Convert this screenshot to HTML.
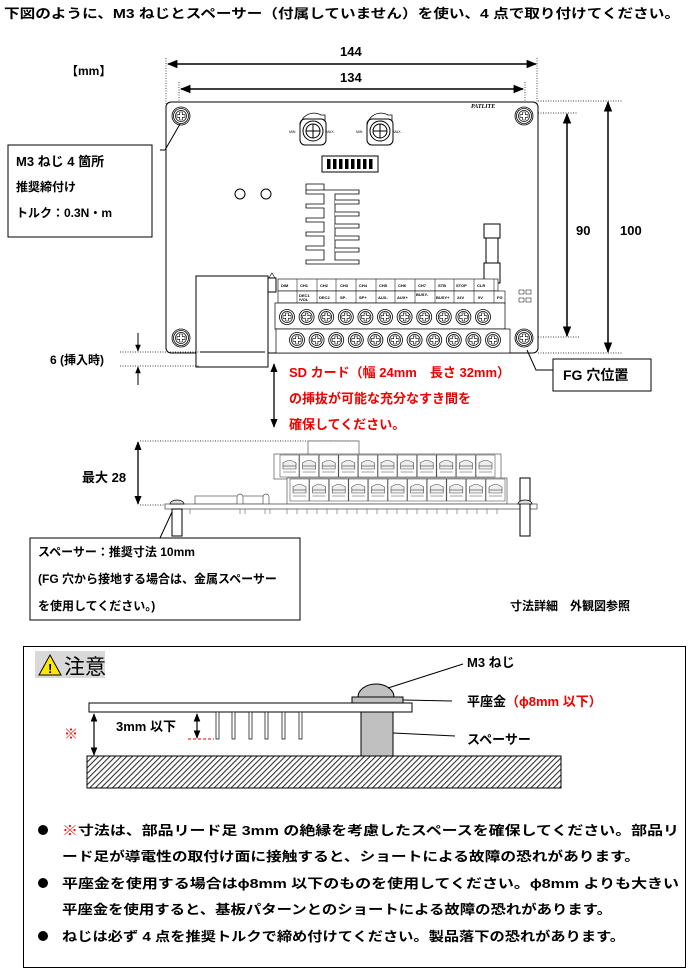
<!DOCTYPE html>
<html><head><meta charset="utf-8"><style>
html,body{margin:0;padding:0;background:#fff;}
svg{display:block;}
text{font-family:"Liberation Sans","Noto Sans CJK JP",sans-serif;font-weight:bold;}
.t{font-size:13px;fill:#000;}
.r{fill:#e00;}
.s{font-size:4px;font-weight:normal;}
</style></head><body>
<svg width="689" height="972" viewBox="0 0 689 972" xmlns="http://www.w3.org/2000/svg">
<defs>
<marker id="ah" viewBox="0 0 10 10" refX="9" refY="5" markerWidth="7" markerHeight="7" orient="auto-start-reverse"><path d="M0,1 L10,5 L0,9 z" fill="#000"/></marker>
<pattern id="hatch" width="4" height="4" patternUnits="userSpaceOnUse" patternTransform="rotate(45)"><rect width="4" height="4" fill="#fff"/><line x1="0" y1="0" x2="0" y2="4" stroke="#333" stroke-width="2.2"/></pattern>
<g id="sc"><circle r="7.5" fill="#fff" stroke="#000" stroke-width="0.8"/><circle r="5.5" fill="none" stroke="#000" stroke-width="0.7"/><path d="M-1.3,-4 h2.6 v2.7 h2.7 v2.6 h-2.7 v2.7 h-2.6 v-2.7 h-2.7 v-2.6 h2.7z" fill="none" stroke="#000" stroke-width="0.6"/></g>
<g id="hole"><circle r="9" fill="#fff" stroke="#000" stroke-width="0.8"/><use href="#sc"/></g>
<g id="tb"><rect x="0" y="0" width="19" height="22" fill="#fff" stroke="#555" stroke-width="0.6"/><path d="M3,8 q6.5,-5 13,0 v6 h-13z" fill="#eee" stroke="#444" stroke-width="0.6"/><line x1="3" y1="11" x2="16" y2="11" stroke="#444" stroke-width="0.6"/><line x1="3" y1="17" x2="16" y2="17" stroke="#444" stroke-width="0.5"/></g>
<g id="knob"><rect x="-13" y="-12" width="26" height="26" rx="5" fill="#fff" stroke="#000"/><path d="M-13,-3 a14,14 0 0 1 21,-13 h4 v6" fill="none" stroke="#000" stroke-width="0.8"/><circle r="10" fill="#fff" stroke="#000"/><circle r="7" fill="none" stroke="#000"/><line x1="-7" y1="0" x2="7" y2="0" stroke="#000"/><line x1="0" y1="-7" x2="0" y2="7" stroke="#000"/><text x="-24" y="2" class="s" style="font-size:3.5px">MIN</text><text x="13" y="2" class="s" style="font-size:3.5px">MAX.</text></g>
</defs>

<text class="t" x="4" y="18" textLength="676" lengthAdjust="spacingAndGlyphs">下図のように、M3 ねじとスペーサー（付属していません）を使い、4 点で取り付けてください。</text>
<text class="t" x="66" y="75" style="font-size:12px">【mm】</text>

<text class="t" x="340" y="56">144</text>
<line x1="168" y1="64" x2="536" y2="64" stroke="#000" stroke-width="1.5" marker-start="url(#ah)" marker-end="url(#ah)"/>
<text class="t" x="340" y="82">134</text>
<line x1="181" y1="89" x2="523" y2="89" stroke="#000" stroke-width="1.5" marker-start="url(#ah)" marker-end="url(#ah)"/>
<g stroke="#000" stroke-width="0.7" stroke-dasharray="1,1.5">
<line x1="166" y1="58" x2="166" y2="104"/><line x1="537" y1="58" x2="537" y2="104"/>
<line x1="179" y1="82" x2="179" y2="108"/><line x1="525" y1="82" x2="525" y2="108"/>
<line x1="538" y1="101" x2="622" y2="101"/><line x1="538" y1="113" x2="578" y2="113"/>
<line x1="538" y1="337" x2="580" y2="337"/><line x1="538" y1="353" x2="622" y2="353"/>
</g>
<line x1="567" y1="114" x2="567" y2="336" stroke="#000" stroke-width="1.5" marker-start="url(#ah)" marker-end="url(#ah)"/>
<line x1="608" y1="102" x2="608" y2="352" stroke="#000" stroke-width="1.5" marker-start="url(#ah)" marker-end="url(#ah)"/>
<text class="t" x="576" y="235">90</text>
<text class="t" x="620" y="235">100</text>

<rect x="166" y="102" width="372" height="251" rx="5" fill="#fff" stroke="#000" stroke-width="1"/>
<use href="#hole" x="181" y="116"/><use href="#hole" x="524" y="116"/>
<use href="#hole" x="181" y="338"/><use href="#hole" x="524" y="338"/>
<text x="471" y="108" style="font-size:6px;font-style:italic;font-family:'Liberation Serif',serif">PATLITE</text>
<use href="#knob" x="313" y="131"/><use href="#knob" x="380" y="131"/>
<rect x="322" y="156" width="56" height="16" fill="#fff" stroke="#000"/>
<g fill="#000"><rect x="327" y="159" width="3.5" height="10"/><rect x="333" y="159" width="3.5" height="10"/><rect x="339" y="159" width="3.5" height="10"/><rect x="345" y="159" width="3.5" height="10"/><rect x="351" y="159" width="3.5" height="10"/><rect x="357" y="159" width="3.5" height="10"/><rect x="363" y="159" width="3.5" height="10"/><rect x="369" y="159" width="3.5" height="10"/></g>
<circle cx="240" cy="194" r="5" fill="#fff" stroke="#000"/><circle cx="266" cy="194" r="5" fill="#fff" stroke="#000"/>
<g fill="#fff" stroke="#000" stroke-width="0.8">
<path d="M306,190 h53 v4 h-24 v66 h24 v4 h-53 v-4 h18 v-10 h-18 v-4 h18 v-10 h-18 v-4 h18 v-10 h-18 v-4 h18 v-10 h-18 v-4 h18 v-10 h-18 v-4 h18 v-6 h-18z"/>
<path d="M335,200 h24 v4 h-24 M335,212 h24 v4 h-24 M335,224 h24 v4 h-24 M335,236 h24 v4 h-24 M335,248 h24 v4 h-24"/>
</g>
<rect x="484" y="224" width="16" height="14" fill="#fff" stroke="#000"/><rect x="486" y="238" width="12" height="38" fill="#fff" stroke="#000"/><rect x="484" y="263" width="16" height="20" fill="#fff" stroke="#000"/>
<rect x="196" y="276" width="72" height="91" fill="#fff" stroke="#000"/>
<line x1="200" y1="352" x2="265" y2="352" stroke="#000"/>
<rect x="268" y="278" width="8" height="14" fill="#fff" stroke="#000"/>
<path d="M269,278 l3,-5 l3,5" fill="none" stroke="#000" stroke-width="0.6"/>
<g stroke="#000" stroke-width="0.6" fill="#fff">
<rect x="278" y="279" width="220" height="12"/><rect x="278" y="291" width="227" height="12"/>
</g>
<g stroke="#000" stroke-width="0.5">
<line x1="297" y1="279" x2="297" y2="303"/><line x1="317" y1="279" x2="317" y2="303"/><line x1="336" y1="279" x2="336" y2="303"/><line x1="356" y1="279" x2="356" y2="303"/><line x1="376" y1="279" x2="376" y2="303"/><line x1="395" y1="279" x2="395" y2="303"/><line x1="415" y1="279" x2="415" y2="303"/><line x1="435" y1="279" x2="435" y2="303"/><line x1="454" y1="279" x2="454" y2="303"/><line x1="474" y1="279" x2="474" y2="303"/><line x1="494" y1="279" x2="494" y2="303"/>
</g>
<g class="s" style="font-size:4px">
<text x="281" y="287">DIM</text><text x="300" y="287">CH1</text><text x="320" y="287">CH2</text><text x="340" y="287">CH3</text><text x="359" y="287">CH4</text><text x="379" y="287">CH5</text><text x="398" y="287">CH6</text><text x="418" y="287">CH7</text><text x="438" y="287">STB</text><text x="456" y="287">STOP</text><text x="477" y="287">CLR</text>
<text x="299" y="297">DEC1</text><text x="299" y="301">/VOL</text><text x="319" y="299">DEC2</text><text x="340" y="299">SP-</text><text x="359" y="299">SP+</text><text x="378" y="299">AUX-</text><text x="397" y="299">AUX+</text><text x="416" y="296">BUSY-</text><text x="436" y="299">BUSY+</text><text x="457" y="299">24V</text><text x="478" y="299">0V</text><text x="497" y="299">FG</text>
</g>
<rect x="519" y="290" width="5" height="4" fill="#fff" stroke="#000" stroke-width="0.5"/><rect x="526" y="290" width="5" height="4" fill="#fff" stroke="#000" stroke-width="0.5"/>
<rect x="519" y="298" width="5" height="4" fill="#fff" stroke="#000" stroke-width="0.5"/><rect x="526" y="298" width="5" height="4" fill="#fff" stroke="#000" stroke-width="0.5"/>
<rect x="275" y="303" width="230" height="26" fill="#fff" stroke="#000" stroke-width="0.7"/>
<rect x="276" y="329" width="234" height="24" fill="#fff" stroke="#000" stroke-width="0.7"/>
<g>
<use href="#sc" x="287" y="317"/><use href="#sc" x="306.6" y="317"/><use href="#sc" x="326.2" y="317"/><use href="#sc" x="345.8" y="317"/><use href="#sc" x="365.4" y="317"/><use href="#sc" x="385" y="317"/><use href="#sc" x="404.6" y="317"/><use href="#sc" x="424.2" y="317"/><use href="#sc" x="443.8" y="317"/><use href="#sc" x="463.4" y="317"/><use href="#sc" x="483" y="317"/>
<use href="#sc" x="297" y="340"/><use href="#sc" x="316.6" y="340"/><use href="#sc" x="336.2" y="340"/><use href="#sc" x="355.8" y="340"/><use href="#sc" x="375.4" y="340"/><use href="#sc" x="395" y="340"/><use href="#sc" x="414.6" y="340"/><use href="#sc" x="434.2" y="340"/><use href="#sc" x="453.8" y="340"/><use href="#sc" x="473.4" y="340"/><use href="#sc" x="493" y="340"/>
</g>

<rect x="8" y="145" width="144" height="92" fill="#fff" stroke="#000"/>
<text class="t" x="16" y="166">M3 ねじ 4 箇所</text>
<text class="t" x="16" y="191" style="font-size:12px">推奨締付け</text>
<text class="t" x="16" y="217" style="font-size:12px">トルク：0.3N・m</text>
<line x1="165" y1="150" x2="180" y2="124" stroke="#000"/>
<line x1="165" y1="150" x2="160" y2="150" stroke="#000"/>

<text class="t" x="50" y="364" style="font-size:12px">6 (挿入時)</text>
<g stroke="#000" stroke-width="0.7" stroke-dasharray="1,1.5"><line x1="120" y1="352" x2="200" y2="352"/><line x1="120" y1="366" x2="200" y2="366"/></g>
<line x1="138" y1="333" x2="138" y2="351" stroke="#000" marker-end="url(#ah)"/>
<line x1="138" y1="385" x2="138" y2="367" stroke="#000" marker-end="url(#ah)"/>

<rect x="553" y="359" width="98" height="32" fill="#fff" stroke="#000"/>
<text class="t" x="563" y="380" style="font-size:14px">FG 穴位置</text>
<path d="M527,350 L536,370 L553,370" fill="none" stroke="#000"/>

<line x1="274" y1="364" x2="274" y2="427" stroke="#000" stroke-width="1.3" marker-start="url(#ah)" marker-end="url(#ah)"/>
<text class="t r" x="289" y="377">SD カード（幅 24mm　長さ 32mm）</text>
<text class="t r" x="289" y="403">の挿抜が可能な充分なすき間を</text>
<text class="t r" x="289" y="429">確保してください。</text>

<g stroke="#000" stroke-width="0.7" stroke-dasharray="1,1.5"><line x1="140" y1="441" x2="360" y2="441"/><line x1="140" y1="505" x2="165" y2="505"/></g>
<line x1="138" y1="442" x2="138" y2="504" stroke="#000" stroke-width="1.3" marker-start="url(#ah)" marker-end="url(#ah)"/>
<text class="t" x="82" y="482">最大 28</text>
<rect x="308" y="441" width="51" height="14" fill="#fff" stroke="#555" stroke-width="0.7"/>
<rect x="274" y="454" width="227" height="25" fill="#fff" stroke="#555" stroke-width="0.7"/>
<rect x="287" y="478" width="220" height="26" fill="#fff" stroke="#555" stroke-width="0.7"/>
<g>
<use href="#tb" x="280" y="455"/><use href="#tb" x="299.6" y="455"/><use href="#tb" x="319.2" y="455"/><use href="#tb" x="338.8" y="455"/><use href="#tb" x="358.4" y="455"/><use href="#tb" x="378" y="455"/><use href="#tb" x="397.6" y="455"/><use href="#tb" x="417.2" y="455"/><use href="#tb" x="436.8" y="455"/><use href="#tb" x="456.4" y="455"/><use href="#tb" x="476" y="455"/>
<use href="#tb" x="290" y="479"/><use href="#tb" x="309.6" y="479"/><use href="#tb" x="329.2" y="479"/><use href="#tb" x="348.8" y="479"/><use href="#tb" x="368.4" y="479"/><use href="#tb" x="388" y="479"/><use href="#tb" x="407.6" y="479"/><use href="#tb" x="427.2" y="479"/><use href="#tb" x="446.8" y="479"/><use href="#tb" x="466.4" y="479"/><use href="#tb" x="486" y="479"/>
</g>
<rect x="195" y="496" width="73" height="8" fill="#fff" stroke="#555" stroke-width="0.7"/>
<path d="M237,504 v-7 a3,3 0 0 1 6,0 v7 M263,504 v-7 a3,3 0 0 1 6,0 v7" fill="#fff" stroke="#555" stroke-width="0.7"/>
<rect x="165" y="504" width="372" height="5" fill="#fff" stroke="#555" stroke-width="0.8"/>
<g stroke="#777" stroke-width="0.7"><line x1="190" y1="509" x2="190" y2="514"/><line x1="240" y1="509" x2="240" y2="514"/><line x1="245" y1="509" x2="245" y2="514"/><line x1="265" y1="509" x2="265" y2="514"/><line x1="270" y1="509" x2="270" y2="514"/><line x1="287" y1="509" x2="287" y2="514"/><line x1="297" y1="509" x2="297" y2="514"/><line x1="307" y1="509" x2="307" y2="514"/><line x1="317" y1="509" x2="317" y2="514"/><line x1="327" y1="509" x2="327" y2="514"/><line x1="337" y1="509" x2="337" y2="514"/><line x1="347" y1="509" x2="347" y2="514"/><line x1="357" y1="509" x2="357" y2="514"/><line x1="367" y1="509" x2="367" y2="514"/><line x1="377" y1="509" x2="377" y2="514"/><line x1="387" y1="509" x2="387" y2="514"/><line x1="397" y1="509" x2="397" y2="514"/><line x1="407" y1="509" x2="407" y2="514"/><line x1="417" y1="509" x2="417" y2="514"/><line x1="427" y1="509" x2="427" y2="514"/><line x1="437" y1="509" x2="437" y2="514"/><line x1="447" y1="509" x2="447" y2="514"/><line x1="457" y1="509" x2="457" y2="514"/><line x1="467" y1="509" x2="467" y2="514"/><line x1="477" y1="509" x2="477" y2="514"/><line x1="487" y1="509" x2="487" y2="514"/><line x1="497" y1="509" x2="497" y2="514"/></g>
<rect x="172" y="509" width="10" height="27" fill="#fff" stroke="#000"/>
<path d="M170,504 a7,4 0 0 1 14,0z" fill="#ddd" stroke="#000" stroke-width="0.7"/>
<rect x="520" y="478" width="10" height="58" fill="#fff" stroke="#000"/>
<path d="M518,504 a7,4 0 0 1 14,0z" fill="#ddd" stroke="#000" stroke-width="0.7"/>

<line x1="172" y1="512" x2="160" y2="538" stroke="#000"/>
<rect x="30" y="538" width="270" height="82" fill="#fff" stroke="#000"/>
<text class="t" x="38" y="556" style="font-size:12px">スペーサー：推奨寸法 10mm</text>
<text class="t" x="38" y="583" style="font-size:12px">(FG 穴から接地する場合は、金属スペーサー</text>
<text class="t" x="38" y="610" style="font-size:12px">を使用してください。)</text>
<text class="t" x="510" y="610" style="font-size:12px">寸法詳細　外観図参照</text>

<rect x="23.5" y="646.5" width="662" height="321" fill="#fff" stroke="#000"/>
<rect x="35" y="651" width="70" height="27" fill="#d9d9d9"/>
<path d="M50,655 L61,675 L39,675 z" fill="#ffe800" stroke="#000" stroke-width="1"/>
<text x="48" y="673" style="font-size:13px;font-weight:bold">!</text>
<text x="64" y="674" style="font-size:21px;font-weight:normal">注意</text>

<rect x="89" y="703" width="323" height="9" fill="#fff" stroke="#000"/>
<rect x="87" y="756" width="474" height="32" fill="url(#hatch)" stroke="#000"/>
<rect x="361" y="712" width="32" height="44" fill="#c0c0c0" stroke="#000"/>
<rect x="352" y="697" width="51" height="6" fill="#c0c0c0" stroke="#000"/>
<path d="M358,697 a18,13 0 0 1 36,0z" fill="#c0c0c0" stroke="#000"/>
<g fill="#fff" stroke="#000" stroke-width="0.7">
<rect x="216" y="712" width="3" height="27"/><rect x="232" y="712" width="3" height="27"/><rect x="249" y="712" width="3" height="27"/><rect x="265" y="712" width="3" height="27"/><rect x="282" y="712" width="3" height="27"/><rect x="299" y="712" width="3" height="27"/>
</g>
<line x1="94" y1="714" x2="94" y2="755" stroke="#000" stroke-width="1.2" marker-start="url(#ah)" marker-end="url(#ah)"/>
<line x1="197" y1="714" x2="197" y2="738" stroke="#000" stroke-width="1.2" marker-start="url(#ah)" marker-end="url(#ah)"/>
<line x1="188" y1="739" x2="214" y2="739" stroke="#e00" stroke-dasharray="3,2"/>
<text class="t" x="116" y="731">3mm 以下</text>
<text class="t r" x="64" y="739" style="font-size:14px">※</text>
<line x1="388" y1="688" x2="463" y2="664" stroke="#000"/>
<line x1="403" y1="700" x2="452" y2="701" stroke="#000"/>
<line x1="393" y1="733" x2="455" y2="736" stroke="#000"/>
<text class="t" x="467" y="667">M3 ねじ</text>
<text class="t" x="467" y="706">平座金<tspan class="r">（ϕ8mm 以下）</tspan></text>
<text class="t" x="467" y="744">スペーサー</text>

<circle cx="43" cy="830" r="5"/><circle cx="43" cy="883" r="5"/><circle cx="43" cy="936" r="5"/>
<g class="t">
<text x="62" y="835" textLength="617" lengthAdjust="spacingAndGlyphs"><tspan class="r">※</tspan>寸法は、部品リード足 3mm の絶縁を考慮したスペースを確保してください。部品リ</text>
<text x="62" y="861" textLength="578" lengthAdjust="spacingAndGlyphs">ード足が導電性の取付け面に接触すると、ショートによる故障の恐れがあります。</text>
<text x="62" y="888" textLength="617" lengthAdjust="spacingAndGlyphs">平座金を使用する場合はϕ8mm 以下のものを使用してください。ϕ8mm よりも大きい</text>
<text x="62" y="914" textLength="550" lengthAdjust="spacingAndGlyphs">平座金を使用すると、基板パターンとのショートによる故障の恐れがあります。</text>
<text x="62" y="941" textLength="563" lengthAdjust="spacingAndGlyphs">ねじは必ず 4 点を推奨トルクで締め付けてください。製品落下の恐れがあります。</text>
</g>
</svg>
</body></html>
